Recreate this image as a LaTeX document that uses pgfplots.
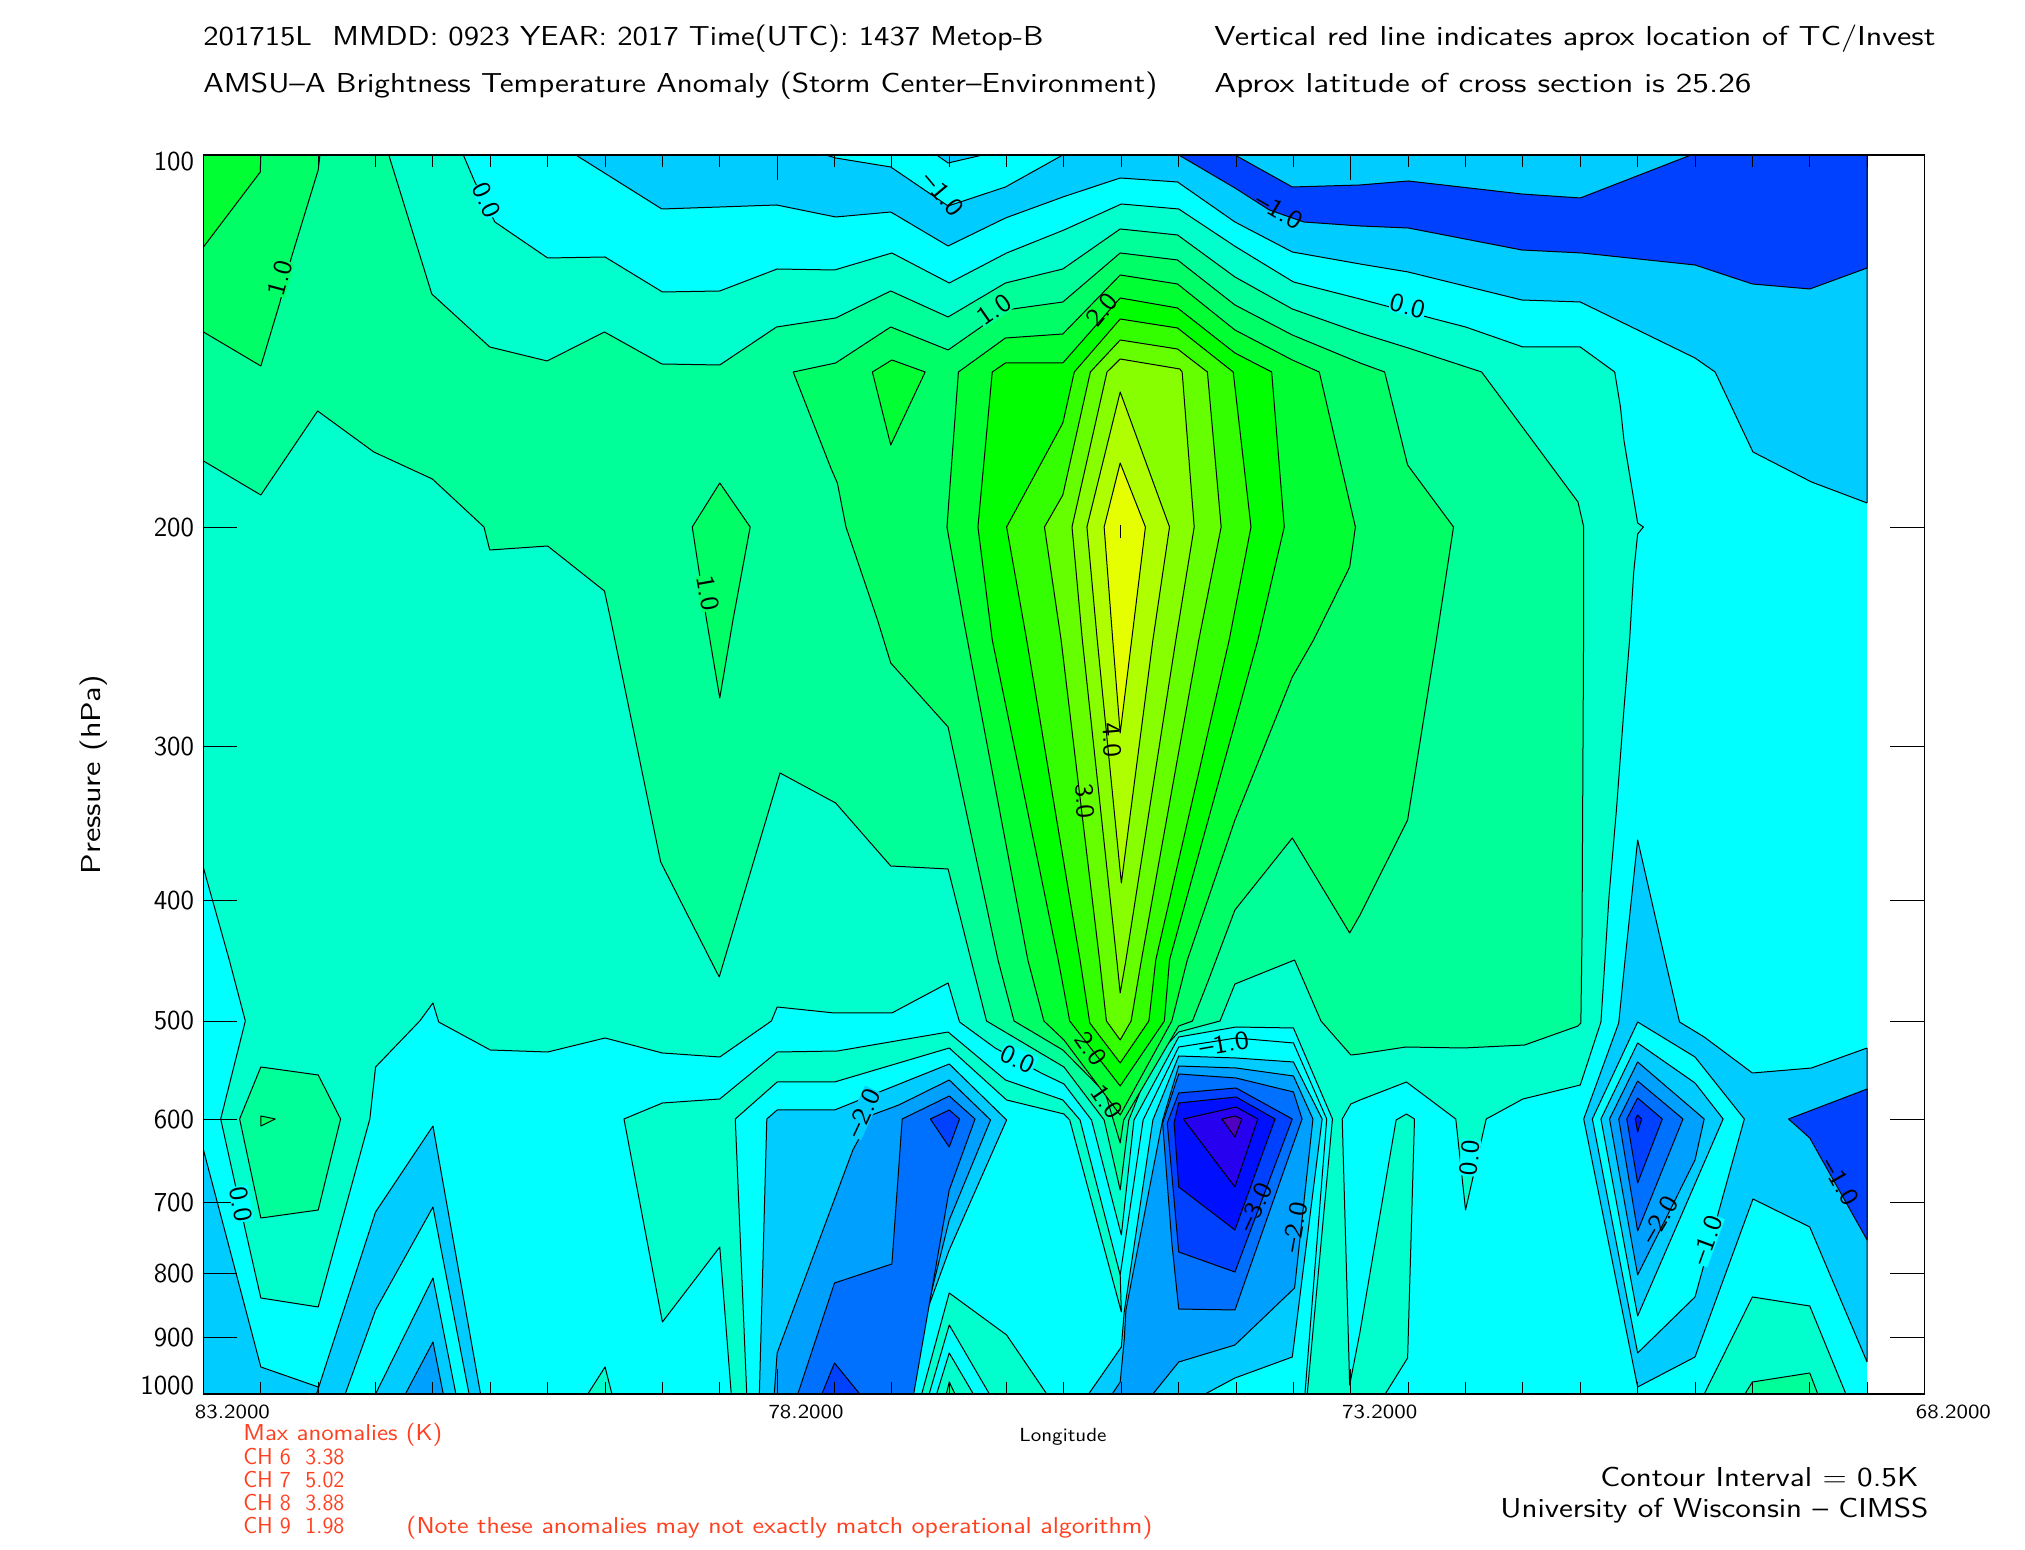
\documentclass[border=0pt]{standalone}
\usepackage{fontspec}
\usepackage{graphicx}
\usepackage{pgfplots}
\pgfplotsset{compat=1.18}
\renewcommand{\familydefault}{\sfdefault}

% contour polygons: x = grid column (0.5 deg steps from 83.2),
% y = picture row; the two filters below turn them into longitude and log10(pressure)
\definecolor{c00}{HTML}{00FFFF}
\definecolor{m05}{HTML}{00CCFF}
\definecolor{m10}{HTML}{00A0FF}
\definecolor{m15}{HTML}{0070FF}
\definecolor{m20}{HTML}{0040FF}
\definecolor{m25}{HTML}{0010FF}
\definecolor{m30}{HTML}{2800F0}
\definecolor{m35}{HTML}{5000C0}
\definecolor{p00}{HTML}{00FFCC}
\definecolor{p05}{HTML}{00FF99}
\definecolor{p10}{HTML}{00FF66}
\definecolor{p15}{HTML}{00FF33}
\definecolor{p20}{HTML}{00FF00}
\definecolor{p25}{HTML}{33FF00}
\definecolor{p30}{HTML}{66FF00}
\definecolor{p35}{HTML}{88FF00}
\definecolor{p40}{HTML}{B0FF00}
\definecolor{p45}{HTML}{E5FF00}
\definecolor{redtxt}{HTML}{FF4020}

\pgfplotsset{cont/.style={draw=black,line width=0.5pt,fill=#1,mark=none,line join=round,forget plot}}

\newcommand{\W}[2]{\resizebox{#1pt}{\height}{#2}}
\newcommand{\txt}[5][black]{\node[anchor=base west,inner sep=0pt,text=#1] at ({#2*0.5pt},{(1550-#3)*0.5pt}) {\W{#4}{#5}};}
% contour label: fill colour blanks the line below it, as in the original
\newcommand{\lab}[5][none]{\node[inner sep=0.3pt,fill=#1,rotate=#4] at ({#2*0.5pt},{(1550-#3)*0.5pt}) {\fontsize{13}{13}\selectfont\W{17.5}{#5}};}
\newcommand{\labm}[5][none]{\node[inner sep=0.3pt,fill=#1,rotate=#4] at ({#2*0.5pt},{(1550-#3)*0.5pt}) {\fontsize{13}{13}\selectfont\W{25}{#5}};}

\begin{document}
\begin{tikzpicture}
\path (0,0) rectangle (1012.5pt,775pt);
\begin{axis}[
    at={(101.75pt,78pt)}, anchor=south west,
    scale only axis, width=860.5pt, height=619.5pt,
    x dir=reverse, y dir=reverse,
    xmin=68.2, xmax=83.2, ymin=2, ymax=3,
    x filter/.expression={83.2-0.5*x},
    y filter/.expression={2+(y-155)/1239},
    axis on top, axis line style={line width=0.8pt},
    xtick={83.2,78.2,73.2,68.2},
    xticklabels={\W{37.5}{83.2000},\W{37.5}{78.2000},\W{37.5}{73.2000},\W{37.5}{68.2000}},
    minor xtick={82.7,82.2,81.7,81.2,80.7,80.2,79.7,79.2,78.7,77.7,77.2,76.7,76.2,75.7,75.2,74.7,74.2,73.7,72.7,72.2,71.7,71.2,70.7,70.2,69.7,69.2,68.7},
    ytick={2,2.30103,2.47712,2.60206,2.69897,2.77815,2.8451,2.90309,2.95424,3},
    yticklabels={\raisebox{-7.7pt}[0pt][0pt]{100},200,300,400,500,600,700,800,900,\raisebox{0pt}[0pt][0pt]{1000}},
    tick align=inside, tick style={black,line width=0.5pt},
    xtick style={/pgfplots/major tick length=12.5pt},
    ytick style={/pgfplots/major tick length=17pt},
    minor tick length=6pt,
    xticklabel style={anchor=north west,inner sep=0pt,xshift=-4.5pt,yshift=-5.5pt,font=\fontsize{10}{10}\selectfont},
    yticklabel style={inner sep=0pt,xshift=-4.5pt,font=\fontsize{13.7}{14}\selectfont},
    xlabel={\W{43.5}{Longitude}},
    xlabel style={at={(axis description cs:0.4994,0)},anchor=base,yshift=-24pt,font=\fontsize{9.5}{10}\selectfont},
    ylabel={\W{100}{Pressure (hPa)}},
    ylabel style={at={(axis description cs:-0.0636,0.5)},anchor=center,font=\fontsize{13.7}{14}\selectfont},
]
% background band
\addplot[fill=c00,draw=none,mark=none,forget plot] coordinates {(0,155)(29,155)(29,1394)(0,1394)} --cycle;

% top: cold region and its patches
\addplot[cont=m05] coordinates {(6.49,155)(7.99,209)(9,207)(9.99,205)(11.02,217)(11.98,212)(12.98,246)(13.98,218)(14.98,197)(15.98,178)(16.98,182)(17.98,222)(18.98,252)(20.16,264)(21,272)(22.98,300)(24,302)(26,358)(26.35,372)(27.01,452)(28.03,482)(29,503)(29,155)} --cycle;
\addplot[cont=c00] coordinates {(10.85,155)(11.02,158)(11.98,167)(12.98,206)(13.98,187)(14.98,155)} --cycle;
\addplot[cont=m05] coordinates {(12.78,155)(12.98,163)(13.58,155)} --cycle;
\addplot[cont=m20] coordinates {(17,155)(17.98,188)(18.58,210)(19.18,222)(20.16,226)(21,228)(22.98,250)(24.03,253)(26,265)(27,284)(28,289)(29,268)(29,155)(25.93,155)(24,198)(22.98,194)(21,181)(20.16,185)(18.98,187)(17.98,155)} --cycle;

% warm envelope, 0.0 K
\addplot[cont=p00] coordinates {(4.53,155)(4.73,182)(5.08,222)(6,258)(7,257)(8,292)(9,291)(10,269)(11,270)(12,253)(13,283)(14,253)(15,230)(16,204)(17,209)(18,247)(19,282)(20.16,299)(21.46,319)(22,327)(23,347)(24,347)(24.6,372)(24.7,407)(24.76,440)(25,523)(25.1,527)(25,534)(24.93,573)(24.86,640)(24.76,710)(24.63,810)(24.5,897)(24.43,960)(24.36,1022)(24,1085)(23,1099)(22.36,1119)(22,1210)(21.83,1119)(20.97,1082)(20.16,1100)(20,1104)(19.85,1119)(19.98,1385)(20.16,1332)(20.79,1120)(20.97,1114)(21.11,1119)(20.99,1358)(20.6,1394)(19.24,1394)(19.68,1119)(19,1028)(18,1027)(17,1037)(16.22,1120)(16,1235)(15.48,1120)(15,1084)(14.6,1073)(13.8,1048)(13.18,1022)(12.98,983)(12,1013)(11,1013)(10,1007)(9.9,1021)(9,1057)(8,1053)(7,1038)(6,1052)(5,1050)(4.1,1022)(4,1003)(3.77,1021)(3,1067)(2.9,1119)(2,1307)(1,1298)(0.73,1230)(0.3,1119)(0.73,1021)(0.45,960)(0,868)(0,155)} --cycle;
% tongue west of the core
\addplot[cont=p00] coordinates {(7.33,1119)(8,1103)(9,1099)(10,1052)(11.05,1051)(12.98,1032)(13.98,1080)(14.98,1100)(15.28,1120)(15.98,1275)(16,1312)(15.1,1120)(15,1114)(14,1100)(13,1048)(11,1082)(10,1082)(9.27,1119)(9.47,1394)(9.2,1394)(9,1247)(8,1322)} --cycle;

% warm levels
\addplot[cont=p05] coordinates {(3.23,155)(3.98,294)(4.99,347)(5.99,361)(6.99,332)(7.99,364)(9,365)(9.99,327)(11.02,318)(11.98,291)(12.98,317)(13.98,283)(14.98,269)(15.98,229)(16.98,235)(17.98,277)(18.98,309)(20.16,333)(21,348)(22.28,372)(23.96,502)(24.06,527)(24.06,607)(24.03,937)(24.01,1023)(23.96,1026)(23.03,1045)(21.96,1048)(20.96,1047)(20.16,1054)(20,1055)(19.48,1021)(19.02,960)(17.98,984)(17.72,1021)(17,1032)(16.55,1060)(16.13,1120)(15.98,1190)(15.7,1120)(15,1067)(13.65,1021)(13.38,960)(12.98,869)(11.98,866)(11.02,803)(10.05,773)(8.99,977)(7.97,862)(7.1,620)(6.99,591)(6,546)(4.99,550)(4.89,527)(3.99,479)(2.97,452)(1.99,411)(1,495)(0,461)(0,155)} --cycle;
\addplot[cont=p10] coordinates {(0,155)(2.03,155)(2,170)(1.53,258)(1.33,303)(1,366)(0,332)} --cycle;
\addplot[cont=p15] coordinates {(0,155)(1,155)(0.99,172)(0,247)} --cycle;
\addplot[cont=p10] coordinates {(9,483)(9.53,527)(9.23,620)(9,698)(8.77,620)(8.52,527)} --cycle;
\addplot[cont=p10] coordinates {(10.28,372)(11.02,363)(11.98,327)(12.98,350)(13.98,310)(14.98,302)(15.98,253)(16.98,260)(17.98,305)(18.98,335)(20.16,363)(20.59,372)(20.99,465)(21.79,527)(21.49,640)(20.99,820)(20.16,915)(19.98,933)(18.98,838)(17.98,910)(17.52,980)(17.24,1021)(17,1026)(16.04,1120)(15.98,1143)(15.72,1093)(14.98,1050)(14.13,1021)(13.85,960)(12.98,727)(11.98,663)(11.75,620)(11.2,527)(11.05,483)(10.95,470)} --cycle;
\addplot[cont=p15] coordinates {(11.66,372)(12,360)(12.58,372)(11.98,445)} --cycle;
\addplot[cont=p15] coordinates {(13.16,372)(13.98,338)(14.98,334)(15.98,275)(16.98,284)(17.98,330)(18.98,360)(19.45,372)(20.08,527)(19.98,567)(19.35,640)(18.98,677)(17.98,820)(17.15,960)(16.88,1021)(15.98,1115)(15,1040)(14.65,1021)(14.37,960)(13.25,620)(12.96,527)} --cycle;
\addplot[cont=p20] coordinates {(13.75,372)(13.98,363)(14.98,363)(15.98,298)(16.98,308)(17.98,353)(18.62,372)(18.84,527)(18.38,640)(16.84,960)(16.75,1021)(15.98,1086)(15.1,1021)(14.9,960)(13.75,640)(13.5,527)} --cycle;
\addplot[cont=p25] coordinates {(15.18,372)(15.98,319)(16.98,328)(17.95,372)(18.26,527)(17.88,640)(16.6,960)(16.48,1021)(15.98,1063)(15.45,1023)(15.28,960)(14.35,640)(14,527)(14.98,423)} --cycle;
\addplot[cont=p30] coordinates {(15.46,372)(15.98,340)(16.98,349)(17.5,372)(17.74,527)(17.35,640)(16.35,960)(16.17,1021)(15.98,1040)(15.74,1021)(15.62,960)(14.95,640)(14.66,527)(14.98,495)} --cycle;
\addplot[cont=p35] coordinates {(15.75,372)(15.98,359)(17.02,369)(17.06,372)(17.27,527)(16.95,640)(16.08,960)(15.98,993)(15.92,960)(15.32,640)(15.14,527)} --cycle;
\addplot[cont=p40] coordinates {(15.98,392)(16.84,527)(16.55,640)(16,883)(15.58,640)(15.4,527)} --cycle;
\addplot[cont=p45] coordinates {(15.98,463)(16.42,527)(16.18,640)(15.98,733)(15.85,640)(15.7,527)} --cycle;
\addplot[black,line width=0.5pt,mark=none,forget plot] coordinates {(15.98,525)(15.98,538)};

% warm pocket near 600 hPa, far west
\addplot[cont=p05] coordinates {(1,1067)(2,1075)(2.39,1119)(2,1210)(1,1218)(0.63,1119)} --cycle;
\addplot[cont=p10] coordinates {(1,1116)(1.25,1119)(1,1126)} --cycle;

% lower west lows
\addplot[cont=m05] coordinates {(0,1150)(1,1367)(2,1387)(2,1394)(0,1394)} --cycle;
\addplot[cont=m05] coordinates {(1.97,1394)(3,1212)(4,1126)(4.83,1394)} --cycle;
\addplot[cont=c00] coordinates {(2.47,1394)(3,1310)(4,1207)(4.63,1394)} --cycle;
\addplot[cont=m05] coordinates {(3,1394)(4,1278)(4.4,1394)} --cycle;
\addplot[cont=m10] coordinates {(3.52,1394)(4,1342)(4.18,1394)} --cycle;
\addplot[cont=p00] coordinates {(6.7,1394)(7,1367)(7.12,1394)} --cycle;

% low at col 13
\addplot[cont=m05] coordinates {(9.69,1394)(9.82,1119)(10,1110)(11,1110)(13,1064)(14,1120)(13,1250)(12.08,1394)} --cycle;
\addplot[cont=m10] coordinates {(9.95,1394)(10,1353)(11.32,1150)(11.65,1115)(12.12,1105)(13,1080)(13.72,1120)(13,1220)(12.25,1394)} --cycle;
\addplot[cont=m15] coordinates {(10.36,1394)(11,1283)(12,1264)(12.18,1119)(13,1096)(13.45,1119)(13,1190)(12.38,1394)} --cycle;
\addplot[cont=m20] coordinates {(12.67,1119)(13,1110)(13.18,1119)(13,1147)} --cycle;
\addplot[cont=m20] coordinates {(10.78,1394)(11,1363)(11.44,1394)} --cycle;
% bottom tongue beside it
\addplot[cont=p00] coordinates {(12.52,1394)(13,1293)(14,1335)(14.7,1394)} --cycle;
\addplot[cont=c00] coordinates {(12.65,1394)(13,1325)(13.7,1394)} --cycle;
\addplot[cont=p00] coordinates {(12.78,1394)(13,1353)(13.42,1394)} --cycle;
\addplot[cont=p05] coordinates {(12.95,1394)(13,1382)(13.1,1394)} --cycle;

% central low
\addplot[black,line width=0.5pt,mark=none,forget plot] coordinates {(15.98,1275)(16.38,1120)(17,1047)(18,1038)(19,1043)(19.58,1119)(19.2,1394)};
\addplot[cont=m05] coordinates {(15.43,1394)(16,1347)(16.05,1312)(16.55,1120)(17,1056)(18,1058)(19,1062)(19.5,1119)(18.98,1357)(17.98,1378)(17.46,1394)} --cycle;
\addplot[cont=m10] coordinates {(15.84,1394)(15.98,1382)(16.05,1340)(16.08,1310)(16.72,1120)(17,1066)(18,1068)(19,1076)(19.34,1119)(19.02,1288)(17.98,1345)(17,1362)(16.55,1394)} --cycle;
\addplot[cont=m15] coordinates {(16.72,1123)(17,1074)(18,1078)(19,1092)(19.15,1119)(17.98,1310)(17,1309)(16.88,1243)} --cycle;
\addplot[cont=m20] coordinates {(16.8,1123)(17,1093)(18,1088)(18.98,1119)(17.98,1272)(17,1252)} --cycle;
\addplot[cont=m25] coordinates {(16.92,1123)(17,1103)(18,1097)(18.68,1119)(17.98,1230)(17,1187)} --cycle;
\addplot[cont=m30] coordinates {(17.08,1119)(18,1107)(18.38,1119)(17.98,1187)} --cycle;
\addplot[cont=m35] coordinates {(17.75,1119)(17.98,1116)(18.1,1119)(17.98,1137)} --cycle;

% east low, col 25
\addplot[cont=m05] coordinates {(25.48,960)(25,840)(24.78,960)(24.67,1023)(24.06,1119)(25,1387)(26,1357)(27.01,1199)(28,1227)(29,1362)(29,1048)(28.03,1068)(27,1073)(26.16,1037)(25.73,1022)} --cycle;
\addplot[cont=c00] coordinates {(24.21,1119)(25,1022)(26,1057)(26.86,1119)(26,1297)(25,1353)} --cycle;
\addplot[cont=m05] coordinates {(24.36,1119)(25,1043)(26,1083)(26.49,1119)(25,1316)} --cycle;
\addplot[cont=m10] coordinates {(24.51,1119)(25,1062)(26.16,1119)(26,1160)(25,1275)} --cycle;
\addplot[cont=m15] coordinates {(24.67,1119)(25,1081)(25.79,1119)(25,1231)} --cycle;
\addplot[cont=m20] coordinates {(24.81,1119)(25,1098)(25.43,1119)(25,1183)} --cycle;
\addplot[cont=m25] coordinates {(24.96,1119)(25,1115)(25.07,1119)(25,1132)} --cycle;
\addplot[cont=m20] coordinates {(27.63,1119)(29,1089)(29,1240)(28,1138)} --cycle;
% bottom right warm patch
\addplot[cont=p00] coordinates {(26.16,1394)(27,1297)(28,1306)(28.63,1394)} --cycle;
\addplot[cont=p05] coordinates {(26.87,1394)(27,1382)(28,1373)(28.14,1394)} --cycle;
\end{axis}

% contour labels
\lab[c00]{487}{200}{-65}{0.0}
\lab[p10]{280}{278}{75}{1.0}
\lab[p10]{708}{593}{-80}{1.0}
\labm{943}{194}{-50}{--1.0}
\labm{1279}{211}{-30}{--1.0}
\lab[p05]{994}{310}{35}{1.0}
\lab{1102}{310}{50}{2.0}
\lab[c00]{1408}{306}{-15}{0.0}
\lab{1112}{740}{-85}{4.0}
\lab{1085}{801}{-85}{3.0}
\lab[c00]{1018}{1059}{-25}{0.0}
\lab{1091}{1049}{-55}{2.0}
\lab{1107}{1102}{-55}{1.0}
\labm{1224}{1044}{10}{--1.0}
\labm[m05]{863}{1113}{65}{--2.0}
\lab[c00]{241}{1204}{-80}{0.0}
\labm{1255}{1207}{65}{--3.0}
\labm{1295}{1227}{80}{--2.0}
\lab[c00]{1470}{1158}{85}{0.0}
\labm{1660}{1220}{60}{--2.0}
\labm[c00]{1707}{1240}{70}{--1.0}
\labm{1840}{1182}{-60}{--1.0}

% header and footer text
\fontsize{13.7}{14}\selectfont
\txt{203}{46}{420}{201715L\ \ MMDD: 0923 YEAR: 2017 Time(UTC): 1437 Metop-B}
\txt{203}{93}{477}{AMSU--A Brightness Temperature Anomaly (Storm Center--Environment)}
\txt{1214}{46}{360.5}{Vertical red line indicates aprox location of TC/Invest}
\txt{1214}{93}{268.5}{Aprox latitude of cross section is 25.26}
\txt{1600}{1487}{159}{Contour Interval = 0.5K}
\txt{1500}{1518}{214}{University of Wisconsin -- CIMSS}
\fontsize{11.5}{12}\selectfont
\txt[redtxt]{243}{1441}{99.5}{Max anomalies (K)}
\txt[redtxt]{243}{1465}{50.5}{CH 6\ \ 3.38}
\txt[redtxt]{243}{1488}{50.5}{CH 7\ \ 5.02}
\txt[redtxt]{243}{1511}{50.5}{CH 8\ \ 3.88}
\txt[redtxt]{243}{1534}{50.5}{CH 9\ \ 1.98}
\txt[redtxt]{406}{1534}{373}{(Note these anomalies may not exactly match operational algorithm)}
\end{tikzpicture}
\end{document}
